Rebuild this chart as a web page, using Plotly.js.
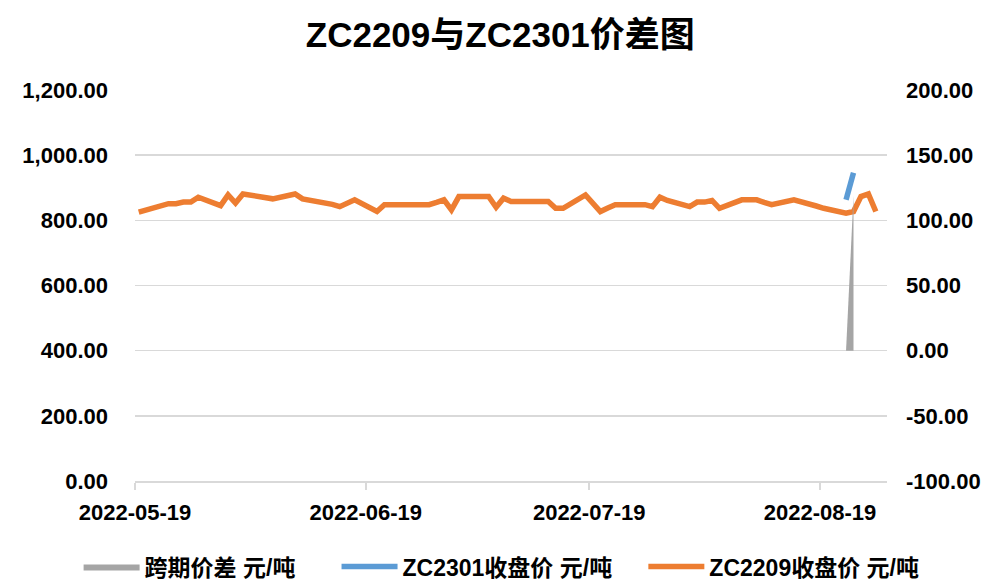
<!DOCTYPE html>
<html>
<head>
<meta charset="utf-8">
<script src="https://cdn.plot.ly/plotly-3.0.1.min.js"></script>
<style>html,body{margin:0;padding:0;background:#fff;}#chart{width:981px;height:580px;}</style>
</head>
<body>
<div id="chart"></div>
<script>
// ---- data ----
const dates = [
  "2022-05-19","2022-05-20","2022-05-23","2022-05-24","2022-05-25","2022-05-26","2022-05-27",
  "2022-05-30","2022-05-31","2022-06-01","2022-06-02",
  "2022-06-06","2022-06-07","2022-06-08","2022-06-09","2022-06-10",
  "2022-06-13","2022-06-14","2022-06-15","2022-06-16","2022-06-17",
  "2022-06-20","2022-06-21","2022-06-22","2022-06-23","2022-06-24",
  "2022-06-27","2022-06-28","2022-06-29","2022-06-30","2022-07-01",
  "2022-07-04","2022-07-05","2022-07-06","2022-07-07","2022-07-08",
  "2022-07-11","2022-07-12","2022-07-13","2022-07-14","2022-07-15",
  "2022-07-18","2022-07-19","2022-07-20","2022-07-21","2022-07-22",
  "2022-07-25","2022-07-26","2022-07-27","2022-07-28","2022-07-29",
  "2022-08-01","2022-08-02","2022-08-03","2022-08-04","2022-08-05",
  "2022-08-08","2022-08-09","2022-08-10","2022-08-11","2022-08-12",
  "2022-08-15","2022-08-16","2022-08-17","2022-08-18","2022-08-19",
  "2022-08-22","2022-08-23","2022-08-24","2022-08-25","2022-08-26"
];
const zc2209 = [
  825,831,851,851,856,856,871,
  845,878,853,881,
  866,871,877,881,866,
  856,849,842,852,863,
  827,848,848,848,848,
  848,855,863,832,873,
  873,873,840,868,858,
  858,858,858,837,837,
  878,853,827,838,848,
  848,848,842,871,861,
  842,856,856,861,837,
  863,863,863,855,848,
  863,858,851,844,837,
  822,827,873,881,827
];
const zc2301Dates = ["2022-08-22","2022-08-23"];
const zc2301 = [863, 946];
const spreadDates = ["2022-08-22","2022-08-23"];
const spread = [0, 119];

const tickLabels = ["2022-05-19","2022-06-19","2022-07-19","2022-08-19"];
const leftTicks = [0,200,400,600,800,1000,1200];
const rightTicks = [-100,-50,0,50,100,150,200];
const seriesNames = ["跨期价差 元/吨","ZC2301收盘价 元/吨","ZC2209收盘价 元/吨"];

// Excel date axis places points at the middle of each day slot: shift ticks/range by half a day
function shiftHalfDay(s){ const d=new Date(s+"T00:00:00Z"); d.setUTCHours(d.getUTCHours()-12); return d.toISOString().slice(0,19).replace("T"," "); }
function fmt(v){ const s=Math.abs(v).toFixed(2).replace(/\B(?=(\d{3})+(?!\d))/g, ","); return (v<0?"-":"")+s; }

const FONT = "Liberation Sans, Arial, Noto Sans CJK SC, sans-serif";
const TF = {family:FONT, size:22, color:"#000", weight:"bold"};
const LF = {family:FONT, size:23, color:"#000", weight:"bold"};

const traces = [
  {x: spreadDates, y: spread, name: seriesNames[0], type:"scatter", mode:"lines",
   fill:"tozeroy", fillcolor:"#A5A5A5", line:{color:"#A5A5A5", width:0}, yaxis:"y2", legend:"legend"},
  {x: zc2301Dates, y: zc2301, name: seriesNames[1], type:"scatter", mode:"lines",
   line:{color:"#5B9BD5", width:5.5}, legend:"legend2"},
  {x: dates, y: zc2209, name: seriesNames[2], type:"scatter", mode:"lines",
   line:{color:"#ED7D31", width:5.5}, legend:"legend3"}
];

function leg(x){ return {orientation:"h", x:x, xanchor:"left", y:-0.219, yanchor:"middle", font:LF, itemwidth:56, bgcolor:"rgba(0,0,0,0)"}; }

const layout = {
  width:981, height:580,
  margin:{l:135, r:94, t:90, b:99, autoexpand:false},
  paper_bgcolor:"#fff", plot_bgcolor:"#fff",
  font:{family:FONT, color:"#000", size:20},
  title:{text:"<b>ZC2209与ZC2301价差图</b>", x:0.51, xref:"container", y:0.94, yanchor:"middle",
         font:{family:FONT, size:35, color:"#000"}},
  showlegend:true,
  legend: leg(-0.075),
  legend2: leg(0.268),
  legend3: leg(0.676),
  xaxis:{type:"date", range:[shiftHalfDay("2022-05-19"), shiftHalfDay("2022-08-28")],
         tickvals: tickLabels.map(shiftHalfDay), ticktext: tickLabels,
         showgrid:false, showline:true, linecolor:"#D9D9D9", linewidth:1.5,
         ticks:"outside", ticklen:7, tickcolor:"#D9D9D9", tickwidth:1.5,
         ticklabelstandoff:4, tickfont:TF, zeroline:false},
  yaxis:{range:[0,1200], tickvals:leftTicks, ticktext:leftTicks.map(fmt),
         showgrid:true, gridcolor:"#D9D9D9", gridwidth:1.5,
         zeroline:false, showline:false, ticks:"", ticklabelstandoff:26, tickfont:TF},
  yaxis2:{range:[-100,200], tickvals:rightTicks, ticktext:rightTicks.map(fmt), overlaying:"y", side:"right",
          showgrid:false, zeroline:false, showline:false, ticks:"", ticklabelstandoff:18, tickfont:TF}
};

Plotly.newPlot("chart", traces, layout, {displayModeBar:false, staticPlot:true});
</script>
</body>
</html>
